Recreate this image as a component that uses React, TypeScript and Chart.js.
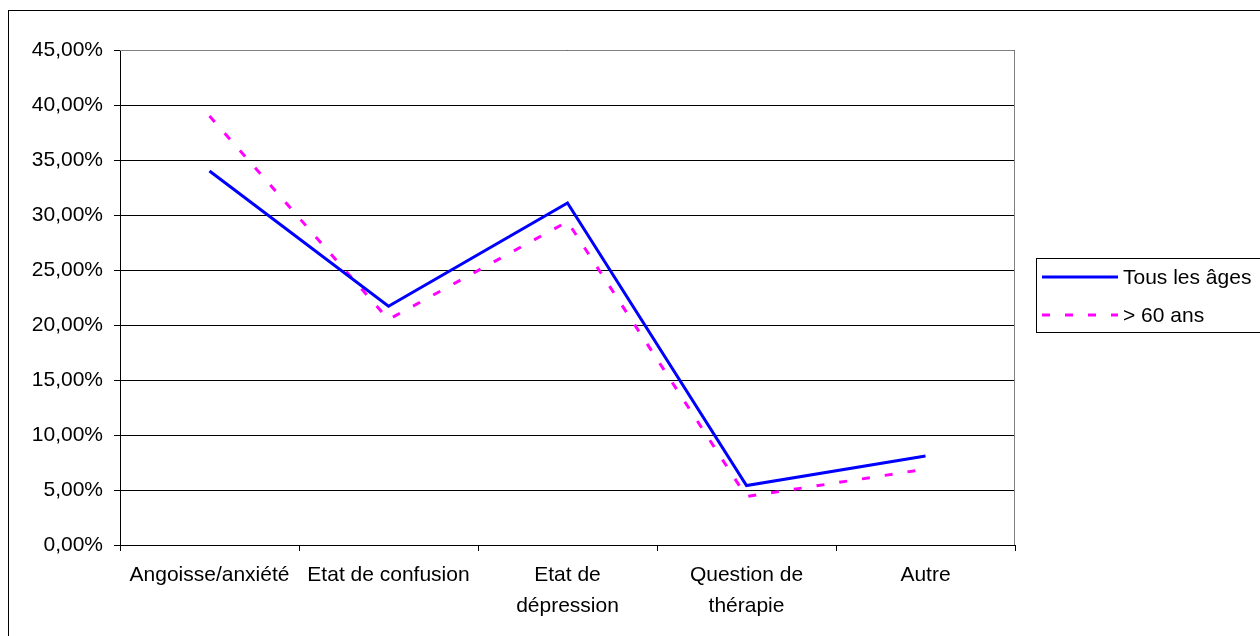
import React, { useEffect, useRef } from 'react';
import { Chart, registerables } from 'chart.js';

Chart.register(...registerables);

const categories: string[][] = [
  ['Angoisse/anxiété'],
  ['Etat de confusion'],
  ['Etat de', 'dépression'],
  ['Question de', 'thérapie'],
  ['Autre'],
];
const seriesNames = ['Tous les âges', '> 60 ans'];
const tousLesAges = [34.0, 21.7, 31.1, 5.4, 8.1];
const plus60 = [39.0, 20.5, 29.4, 4.4, 6.9];
const yMin = 0;
const yMax = 45;
const yStep = 5;

const FONT = '"Liberation Sans", Arial, sans-serif';
const FS = 21;

const decorPlugin = {
  id: 'decor',
  beforeDatasetsDraw(chart: any) {
    const { ctx, chartArea: a } = chart;
    ctx.save();
    ctx.strokeStyle = '#808080';
    ctx.lineWidth = 1;
    ctx.beginPath();
    ctx.moveTo(a.left, Math.round(a.top) + 0.5);
    ctx.lineTo(Math.round(a.right) - 0.5, Math.round(a.top) + 0.5);
    ctx.lineTo(Math.round(a.right) - 0.5, Math.round(a.bottom));
    ctx.stroke();
    ctx.restore();
  },
  afterDraw(chart: any) {
    const { ctx } = chart;
    ctx.save();
    // outer frame
    ctx.strokeStyle = '#000';
    ctx.lineWidth = 1;
    ctx.strokeRect(8.5, 10.5, 1400, 800);
    // legend box
    const lx = 1036.5;
    const ly = 258.5;
    ctx.fillStyle = '#fff';
    ctx.fillRect(lx, ly, 400, 74);
    ctx.strokeRect(lx, ly, 400, 74);
    const rows = [277, 315];
    chart.data.datasets.forEach((ds: any, i: number) => {
      const y = rows[i];
      ctx.beginPath();
      ctx.strokeStyle = ds.borderColor;
      ctx.lineWidth = ds.borderWidth;
      ctx.setLineDash(ds.borderDash || []);
      ctx.moveTo(1042, y);
      ctx.lineTo(1118, y);
      ctx.stroke();
      ctx.setLineDash([]);
      ctx.fillStyle = '#000';
      ctx.font = `${FS}px ${FONT}`;
      ctx.textBaseline = 'middle';
      ctx.textAlign = 'left';
      ctx.fillText(ds.label, 1123, y + 1);
    });
    ctx.restore();
  },
};

export default function App() {
  const ref = useRef<HTMLCanvasElement | null>(null);

  useEffect(() => {
    if (!ref.current) return;
    Chart.defaults.font.family = FONT;
    Chart.defaults.color = '#000';
    const chart = new Chart(ref.current, {
      type: 'line',
      data: {
        labels: categories,
        datasets: [
          {
            label: seriesNames[0],
            data: tousLesAges,
            borderColor: '#0000FF',
            borderWidth: 3,
            pointRadius: 0,
            tension: 0,
            fill: false,
          },
          {
            label: seriesNames[1],
            data: plus60,
            borderColor: '#FF00FF',
            borderWidth: 3,
            borderDash: [8, 15],
            pointRadius: 0,
            tension: 0,
            fill: false,
          },
        ],
      },
      options: {
        animation: false,
        responsive: false,
        maintainAspectRatio: false,
        layout: { padding: { left: 0, top: 50, right: 245, bottom: 0 } },
        plugins: {
          legend: { display: false },
          tooltip: { enabled: false },
          title: { display: false },
        },
        scales: {
          x: {
            offset: true,
            grid: {
              offset: true,
              drawOnChartArea: false,
              drawTicks: true,
              tickLength: 6,
              color: '#000',
              lineWidth: 1,
            },
            border: { color: '#000', width: 1 },
            ticks: {
              font: { size: FS, family: FONT, lineHeight: 1.5 },
              color: '#000',
              padding: 8,
              maxRotation: 0,
              minRotation: 0,
              autoSkip: false,
            },
            afterFit(scale: any) {
              scale.height = 91;
            },
          },
          y: {
            min: yMin,
            max: yMax,
            grid: {
              color: '#000',
              lineWidth: 1,
              drawTicks: true,
              tickLength: 6,
            },
            border: { color: '#000', width: 1 },
            ticks: {
              stepSize: yStep,
              font: { size: FS, family: FONT },
              color: '#000',
              padding: 11,
              callback: (v: any) => Number(v).toFixed(2).replace('.', ',') + '%',
            },
            afterFit(scale: any) {
              scale.width = 120;
            },
          },
        },
      },
      plugins: [decorPlugin],
    });
    return () => chart.destroy();
  }, []);

  return (
    <canvas
      ref={ref}
      width={1260}
      height={636}
      style={{ position: 'absolute', left: 0, top: 0, display: 'block' }}
    />
  );
}
